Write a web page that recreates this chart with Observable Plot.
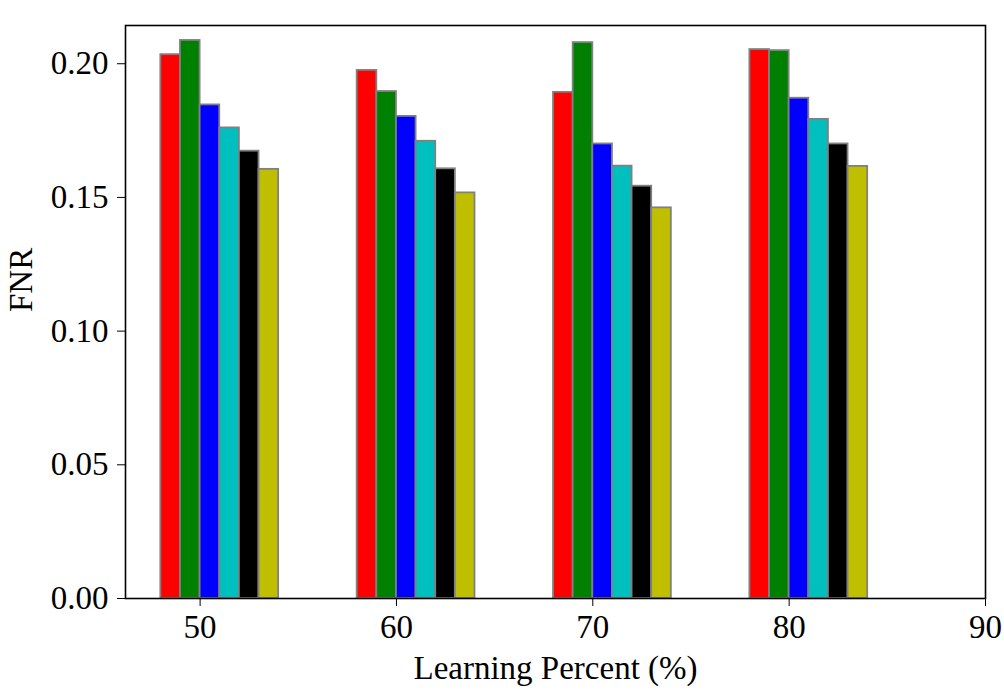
<!DOCTYPE html>
<html>
<head>
<meta charset="utf-8">
<script src="https://cdn.jsdelivr.net/npm/d3@7"></script>
<script src="https://cdn.jsdelivr.net/npm/@observablehq/plot@0.6"></script>
<style>
  html, body { margin: 0; padding: 0; background: #fff; }
</style>
</head>
<body>
<div id="chart"></div>
<script>
const percents = [50, 60, 70, 80];
const seriesNames = ["S1", "S2", "S3", "S4", "S5", "S6"];
const seriesColors = ["#ff0000", "#008000", "#0000ff", "#00bfbf", "#000000", "#bfbf00"];
const s1 = [0.2034, 0.1975, 0.1893, 0.2053];
const s2 = [0.2087, 0.1896, 0.2079, 0.2049];
const s3 = [0.1846, 0.1803, 0.1700, 0.1871];
const s4 = [0.1760, 0.1710, 0.1617, 0.1792];
const s5 = [0.1673, 0.1607, 0.1542, 0.1700];
const s6 = [0.1605, 0.1517, 0.1461, 0.1616];
const xTicks = [50, 60, 70, 80, 90];
const yTicks = [0, 0.05, 0.10, 0.15, 0.20];
const xLabel = "Learning Percent (%)";
const yLabel = "FNR";

const allSeries = [s1, s2, s3, s4, s5, s6];
const rows = [];
allSeries.forEach((vals, i) => {
  vals.forEach((v, j) => {
    rows.push({percent: percents[j], idx: i, name: seriesNames[i], color: seriesColors[i], value: v});
  });
});

const font = "'Liberation Serif', 'Times New Roman', serif";

const chart = Plot.plot({
  width: 1004,
  height: 696,
  marginLeft: 125,
  marginRight: 19,
  marginTop: 25,
  marginBottom: 98,
  style: {fontFamily: font, fontSize: "33px", color: "#000", background: "#fff"},
  x: {domain: [46.2, 90], ticks: xTicks, tickSize: 8, tickPadding: 8, label: null, tickFormat: d => String(d)},
  y: {domain: [0, 0.2143], ticks: yTicks, tickSize: 8, tickPadding: 9, label: null, tickFormat: d3.format(".2f")},
  color: {type: "identity"},
  marks: [
    Plot.rectY(rows, {
      x1: d => d.percent - 2 + d.idx,
      x2: d => d.percent - 1 + d.idx,
      y: "value",
      fill: "color",
      stroke: "#808080",
      strokeWidth: 1.8
    }),
    Plot.frame({stroke: "black", strokeWidth: 1.6}),
    Plot.text([xLabel], {text: d => d, frameAnchor: "bottom", lineAnchor: "bottom", dy: 80, fontSize: 33, fontFamily: font, fill: "black"}),
    Plot.text([yLabel], {text: d => d, frameAnchor: "left", lineAnchor: "middle", dx: -104, rotate: -90, fontSize: 33, fontFamily: font, fill: "black"})
  ]
});
document.getElementById("chart").appendChild(chart);
</script>
</body>
</html>
